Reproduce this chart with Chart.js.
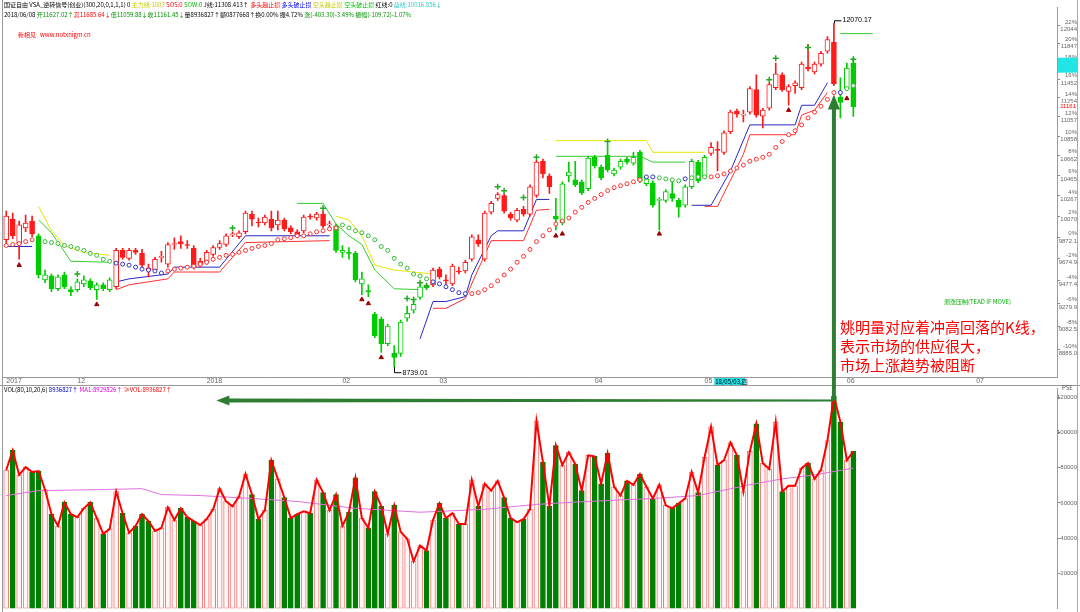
<!DOCTYPE html>
<html>
<head>
<meta charset="utf-8">
<script src="https://cdn.jsdelivr.net/npm/chart.js@4.4.0/dist/chart.umd.min.js"></script>
<style>
html, body { margin: 0; padding: 0; background: #fff; }
#wrap { position: relative; width: 1080px; height: 612px; overflow: hidden; }
#topBox { position: absolute; left: 0; top: 0; width: 1080px; height: 385px; }
#volBox { position: absolute; left: 0; top: 385px; width: 1080px; height: 227px; }
#leftLine { position: absolute; left: 2px; top: 0; width: 0; height: 612px; border-left: 1px solid #999; }
#rightLine { position: absolute; left: 1077px; top: 0; width: 0; height: 612px; border-left: 1px solid #aaa; }
</style>
</head>
<body>
<div id="wrap">
  <div id="topBox"><canvas id="priceChart"></canvas></div>
  <div id="volBox"><canvas id="volChart"></canvas></div>
  <div id="leftLine"></div>
  <div id="rightLine"></div>
</div>
<script>
// K线数据 (读自截图)
const opens = [9850,10043,9815,9960,10025,9887,9486,9521,9407,9530,9399,9399,9451,9477,9399,9442,9399,9425,9752,9680,
  9752,9725,9591,9574,9689,9627,9806,9833,9806,9770,9618,9644,9716,9779,9806,9896,9878,9924,10090,10016,
  10006,10043,9988,10034,9960,9924,9933,10071,10053,10090,9988,9979,9734,9734,9725,9451,9390,9185,9143,8935,
  8853,8853,9151,9219,9330,9434,9442,9582,9486,9451,9565,9565,9671,9850,9671,10108,10240,10268,10090,10034,
  10136,10090,10268,10604,10459,10071,10006,10459,10420,10401,10334,10643,10546,10663,10478,10546,10624,10585,10693,10382,
  10392,10221,10221,10287,10221,10174,10353,10595,10449,10683,10722,10693,10901,11114,11073,11104,11342,11063,11145,11363,
  11500,11321,11384,11363,11585,11532,11617,11757,11855,11259,11352,11627.02];
const highs = [10118,10099,10025,10080,10071,9905,9574,9538,9530,9556,9425,9495,9521,9495,9460,9460,9503,9770,9770,9770,
  9770,9761,9627,9689,9743,9824,9869,9887,9842,9797,9680,9752,9797,9842,9905,9924,9933,10118,10118,10053,
  10080,10118,10118,10053,9979,9942,10080,10090,10108,10118,10025,9997,9797,9779,9743,9556,9442,9202,9160,9101,
  8918,9134,9253,9313,9442,9451,9591,9600,9530,9627,9600,9662,9896,9896,10118,10211,10296,10287,10108,10146,
  10164,10372,10614,10624,10478,10240,10401,10595,10604,10420,10653,10663,10565,10772,10536,10624,10643,10693,10712,10449,
  10411,10249,10325,10430,10240,10372,10624,10614,10663,10792,10802,10912,11125,11135,11125,11373,11500,11145,11415,11628,
  11521,11394,11436,11638,11833,11638,11757,11920,12070.17,11468,11628,11685.64];
const lows = [9815,9859,9671,9924,9878,9503,9460,9381,9390,9407,9347,9381,9425,9399,9313,9390,9381,9407,9671,9662,
  9716,9600,9512,9556,9644,9600,9761,9770,9770,9582,9600,9627,9698,9761,9788,9878,9859,9905,9979,9970,
  9988,9933,9942,9933,9905,9869,9915,10043,10034,9960,9970,9734,9689,9671,9468,9356,9338,8984,8861,8918,
  8739.01,8828,9126,9193,9313,9399,9425,9495,9442,9434,9538,9547,9653,9788,9653,10090,10221,10099,10034,10016,
  10071,10071,10249,10440,10287,9942,9988,10401,10353,10277,10315,10536,10420,10497,10459,10526,10575,10565,10392,10363,
  10155,9942,10202,10211,10062,10155,10334,10392,10430,10663,10507,10673,10881,11053,11002,11084,11053,10942,11125,11342,
  11321,11176,11300,11342,11542,11511,11595,11735,11384,11043,11332,11059.88];
const closes = [10071,9887,9988,10006,9905,9530,9530,9407,9512,9425,9381,9468,9486,9416,9442,9407,9486,9752,9689,9752,
  9734,9618,9565,9671,9698,9806,9815,9815,9797,9600,9653,9734,9779,9815,9887,9905,9915,10099,10043,10006,
  10062,9960,10034,9951,9924,9887,10062,10062,10090,9979,9997,9752,9752,9725,9486,9495,9381,9001,8935,9084,
  8820,9117,9193,9270,9425,9416,9574,9512,9477,9609,9556,9644,9878,9815,10099,10192,10277,10118,10053,10127,
  10090,10353,10595,10478,10353,10043,10382,10497,10372,10296,10634,10556,10440,10517,10517,10604,10595,10643,10411,10430,
  10174,10230,10306,10240,10155,10353,10604,10411,10643,10742,10712,10891,11104,11084,11084,11352,11073,11125,11394,11510,
  11342,11373,11415,11617,11564,11617,11735,11888,11405,11207,11574,11161.45];
// 趋势颜色: R 红 / G 绿
const trend = 'RRRRR' + 'GGGGGGGGGGGG' + 'RRRRRRRRRRRRRRRRRRRRRRRRRRRRRRRRRR' + 'GGGGGGGGGGGGGGG' +
  'RRRRRRRRRRRRRRRRRRR' + 'GGGGGGGGGGGGGGGGGGGGGGGG' + 'RRRRRRRRRRRRRRRRRRRR' + 'GGG';

// 成交量
const vols = [78700,89860,75907,80372,77581,78140,67535,53581,46884,60279,53581,51907,56930,60279,51349,42419,45209,66419,54140,42977,
  46884,53581,49674,44093,45767,57488,50233,56930,51907,49674,47442,50791,56372,68093,60837,58047,63628,76465,64744,50791,
  55814,84279,73674,63070,51349,53581,55256,54140,73116,65860,55814,64744,46884,54698,74233,51349,45767,66419,58047,42419,
  58605,43535,39628,26791,35721,32930,50233,59721,51349,54140,48000,48000,73116,58047,70884,66977,72558,63070,51349,49116,
  50791,56372,106605,83163,58047,92651,81488,88744,82047,66977,87070,86512,70884,88186,69209,64186,72558,70326,76465,69209,
  62512,70326,58605,56930,59721,62512,77581,65860,85953,103256,81488,84279,94326,87070,66419,89302,104930,82605,79256,106047,
  66419,69767,69767,79814,82605,73674,78698,95442,120600,106047,84279,89302];
// 量均线 (稀疏读点)
const volMa = [[0,64186],[5,66977],[14,67535],[21,68093],[24,64744],[30,64186],[38,62512],[45,60837],[54,56930],[64,54698],
  [74,56372],[82,59163],[90,60837],[100,62512],[107,64186],[115,70326],[120,73674],[125,75907],[131,79814]];

// 指标线 (分段读点)
const yellowSegs = [
  [[5,10164],[7,9933],[9,9797],[12,9734],[16,9707]],
  [[51,10071],[53,10034],[55,9887],[57,9618],[60,9574],[66,9538]],
  [[85,10811],[99,10811],[100,10693],[108,10693]]
];
const greenSegs = [
  [[5,10034],[7,9915],[10,9653],[16,9644]],
  [[45,10192],[49,10192],[51,9997],[53,9887],[55,9806],[57,9574],[60,9407],[64,9399]],
  [[85,10653],[98,10653],[100,10595],[105,10595]],
  [[129,11954],[134,11954]]
];
const blueSegs = [
  [[0,9788],[4,9788]],
  [[17,9468],[19,9495],[25,9538],[26,9600],[33,9600],[37,9887],[50,9887]],
  [[64,8975],[66,9295],[68,9295],[71,9338],[72,9530],[75,9887],[76,9933],[80,9933],[82,10230],[84,10230]],
  [[106,10174],[109,10174],[112,10507],[115,10972],[122,10972],[123,11176],[125,11176],[127,11415]]
];
const redSegs = [
  [[17,9399],[19,9442],[25,9495],[26,9556],[33,9556],[37,9824],[50,9842]],
  [[66,9236],[68,9236],[71,9321],[73,9582],[75,9842],[80,9842],[82,10127],[84,10136]],
  [[108,10164],[110,10164],[114,10673],[115,10871],[122,10871],[123,11073],[125,11125],[127,11312]]
];
// SAR 圈
const sar = [9797,9806,9815,9833,9850,null,9833,9824,9815,9797,9788,9770,9752,9725,9707,9671,9653,9636,9627,9618,
  9600,9582,9574,9565,9547,9565,9582,9591,9600,9609,9627,9644,9671,9689,9707,9716,9734,9752,9770,9788,
  9797,9815,9850,9859,9869,9887,9887,9905,9924,9933,9951,9960,9988,9960,9933,9915,9887,9850,9788,9752,
  9680,9627,9591,9538,9521,9495,9468,9451,9425,9399,9373,9364,9364,9373,9399,9434,9477,9530,9582,9644,
  9698,9761,9833,9887,9942,9997,10025,10053,10108,10155,10202,10240,10277,10315,10344,10363,10382,10401,10420,10449,
  10449,10440,10430,10420,10411,10430,10440,10449,10449,10449,10459,10478,10507,10536,10565,10604,10624,10643,10673,10742,
  10802,10871,10912,10972,11044,11104,11166,11238,11310,11310,11352,11384];
const sarColor = 'RRRRR-GGGGGGGGGGGBBBBBBBBRRRRRRRRRRRRRRRRRRRRRRRRRRRGGGGGGGGGGGGGGBBBBBBRRRRRRRRRRRRRRRRRRRRRRRRRRRBBGGGGBGGGRRRRRRRRRRRRRRRRRRRRBGG';
// 信号标记
const buyMarks = [[11,9538],[35,9960],[49,10146],[62,9321],[63,9313],[64,9460],[65,9434],[76,10353],[77,10315],[80,10249],
  [82,10643],[93,10802],[118,11447],[119,11681],[124,11800],[131,11670]];
const sellMarks = [[2,9618],[14,9270],[55,9313],[56,9278],[58,8820],[85,9887],[86,9905],[101,9905],[121,11125],[130,11248]];

// 坐标轴
const slotCount = 163;
const monthNames = ['2017', '12', '2018', '02', '03', '04', '05', '06', '07'];
const monthIdx = [0, 11, 31, 52, 67, 91, 108, 130, 150];
const priceTicks = [12044, 11847, 11650, 11452, 11254, 11057, 10858, 10662, 10465, 10267, 10070, 9872.1, 9674.9, 9477.4, 9279.9, 9082.5, 8885.0];
const priceLabels = ['12044','11847','11650','11452','11254','11057','10858','10662','10465','10267','10070','9872.1','9674.9','9477.4','9279.9','9082.5','8885.0'];
const pctLabels = ['22%','20%','18%','16%','14%','12%','10%','8%','6%','4%','2%','0%','-2%','-4%','-6%','-8%','-10%'];
const volTicks = [20000, 40000, 60000, 80000, 100000, 120000];
const volLabels = ['20000', '40000', '60000', '80000', '100000', '120000'];

const notes = ['姚明量对应着冲高回落的K线，', '表示市场的供应很大，', '市场上涨趋势被阻断'];
const headLine1 = [['国证自由 VSA_逆转信号(创业)(300,20,0,1,1,1) 0 ', '#000'], ['主力线:1007 ', '#c8c800'], ['SOS:0 ', '#ff0000'],
  ['SOW:0 ', '#00b000'], ['J线:11308.413↑ ', '#000'], ['多头趋止损 ', '#ff0000'], ['多头破止损 ', '#0000ff'],
  ['空头趋止损 ', '#c8c800'], ['空头破止损 ', '#00c000'], ['红线:0 ', '#000'], ['蓝线:10016.856↓', '#30c8c8']];
const headLine2 = [['2018/06/08 ', '#000'], ['开11627.02↑', '#009000'], ['高11685.64↓', '#ff0000'], ['低11059.88↓', '#009000'],
  ['收11161.45↓', '#009000'], ['量8936827↑', '#000'], ['额0877668↑', '#000'], ['换0.00% ', '#000'], ['振4.72% ', '#000'],
  ['涨(-403.30)-3.49% ', '#009000'], ['振幅(-109.72)-1.07%', '#009000']];
const volHead = [['VOL(80,10,20,6) ', '#000'], ['8936827↑ ', '#0000c0'], ['MA1:8929826↑ ', '#e000e0'], ['≥VOL:8936827↑', '#ff0000']];

const hiIdx = 128, loIdx = 60;
const arrowTip = 11290;
const arrowVol = 118300;
const arrowLeft = 32.5;

const dayLabels = [];
for (let i = 0; i < slotCount; i++) {
  const k = monthIdx.indexOf(i);
  dayLabels.push(k >= 0 ? monthNames[k] : '');
}

const UP_RED = '#ff1a1a', UP_GRN = '#00cc00';
const candleColor = trend.split('').map(c => c === 'R' ? UP_RED : UP_GRN);
const isUp = closes.map((c, i) => c > opens[i]);

// 稀疏点 -> 按K线位置的数组
function sparse(points) {
  const arr = new Array(slotCount).fill(null);
  points.forEach(p => { arr[p[0]] = p[1]; });
  return arr;
}

function drawSegs(ctx, segs, x, y) {
  for (const [t, c] of segs) {
    ctx.fillStyle = c;
    ctx.fillText(t, x, y);
    x += ctx.measureText(t).width;
  }
}

const priceDecor = {
  id: 'priceDecor',
  afterDraw(chart) {
    const ctx = chart.ctx;
    const xs = chart.scales.x, ys = chart.scales.y;
    ctx.save();
    ctx.textBaseline = 'middle';
    ctx.font = '6px "Noto Sans CJK SC"';
    drawSegs(ctx, headLine1, 4, 4.5);
    drawSegs(ctx, headLine2, 4, 14.5);
    ctx.fillStyle = '#ff0000';
    ctx.fillText('新相见   www.notxnigm.cn', 18, 35);

    // 最高/最低标注
    ctx.strokeStyle = '#000'; ctx.lineWidth = 1;
    ctx.fillStyle = '#000';
    ctx.font = '7px "Liberation Sans"';
    const hx = Math.round(xs.getPixelForValue(hiIdx)) + 0.5, hy = ys.getPixelForValue(highs[hiIdx]);
    ctx.beginPath(); ctx.moveTo(hx, hy); ctx.lineTo(hx, hy - 2.5); ctx.lineTo(hx + 7, hy - 2.5); ctx.stroke();
    ctx.fillText(highs[hiIdx].toFixed(2), hx + 8, hy - 3);
    const lx = Math.round(xs.getPixelForValue(loIdx)) + 0.5, ly = ys.getPixelForValue(lows[loIdx]);
    ctx.beginPath(); ctx.moveTo(lx, ly); ctx.lineTo(lx, ly + 5.5); ctx.lineTo(lx + 7, ly + 5.5); ctx.stroke();
    ctx.fillText(lows[loIdx].toFixed(2), lx + 8, ly + 6);

    // 右侧坐标框
    const boxY = ys.getPixelForValue(11610);
    ctx.fillStyle = '#22e6e6';
    ctx.fillRect(1058, boxY - 7, 19, 15);
    const cy = ys.getPixelForValue(closes[closes.length - 1]);
    ctx.font = '6px "Liberation Sans"';
    ctx.fillStyle = '#fff';
    ctx.fillRect(1060, cy - 4, 17, 8);
    ctx.fillStyle = '#ff0000';
    ctx.textAlign = 'right';
    ctx.fillText('11161', 1076, cy);
    ctx.textAlign = 'left';

    // 光标日期
    const cx = xs.getPixelForValue(109.5);
    ctx.fillStyle = '#22e0e6';
    ctx.fillRect(cx, 378, 31, 7);
    ctx.fillStyle = '#000';
    ctx.font = '6px "Noto Sans CJK SC"';
    ctx.fillText('18/05/03,四', cx + 1, 381.5);

    // 绿色箭头 (竖)
    const ax = xs.getPixelForValue(hiIdx);
    const tipY = ys.getPixelForValue(arrowTip);
    ctx.fillStyle = '#2e7d32';
    ctx.fillRect(ax - 2, tipY + 13, 4, chart.height - tipY - 13);
    ctx.beginPath();
    ctx.moveTo(ax, tipY); ctx.lineTo(ax - 6, tipY + 15); ctx.lineTo(ax + 6, tipY + 15); ctx.closePath(); ctx.fill();

    // 说明文字
    ctx.font = '15px "Noto Sans CJK SC"';
    ctx.fillStyle = '#ff0000';
    notes.forEach((t, i) => ctx.fillText(t, 840, 327 + i * 19));
    ctx.font = '6px "Noto Sans CJK SC"';
    ctx.fillStyle = '#00b000';
    ctx.fillText('测涨压制(TEAD IF MOVE)', 944, 302);
    ctx.restore();
  }
};

const volDecor = {
  id: 'volDecor',
  afterDraw(chart) {
    const ctx = chart.ctx;
    const xs = chart.scales.x, ys = chart.scales.y;
    ctx.save();
    ctx.strokeStyle = '#999'; ctx.lineWidth = 1;
    ctx.beginPath(); ctx.moveTo(0, 0.5); ctx.lineTo(1080, 0.5); ctx.stroke();
    ctx.textBaseline = 'middle';
    ctx.font = '6px "Noto Sans CJK SC"';
    drawSegs(ctx, volHead, 4, 5);
    ctx.fillStyle = '#555';
    ctx.fillText('PSE', 1062, 3);

    const x0 = xs.getPixelForValue(hiIdx);
    const x1 = xs.getPixelForValue(arrowLeft);
    const ay = ys.getPixelForValue(arrowVol);
    ctx.fillStyle = '#2e7d32';
    ctx.fillRect(x0 - 2, 0, 4, ay);
    ctx.beginPath();
    ctx.moveTo(x1 + 12, ay - 2); ctx.lineTo(x0, ay - 1); ctx.lineTo(x0, ay + 1); ctx.lineTo(x1 + 12, ay + 2); ctx.closePath(); ctx.fill();
    ctx.beginPath();
    ctx.moveTo(x1, ay); ctx.lineTo(x1 + 13, ay - 5); ctx.lineTo(x1 + 13, ay + 5); ctx.closePath(); ctx.fill();
    ctx.restore();
  }
};

const lineSets = (segs, color) => segs.map(s => ({
  type: 'line', data: sparse(s), borderColor: color, borderWidth: 1, pointRadius: 0,
  spanGaps: true, order: 3
}));

new Chart(document.getElementById('priceChart'), {
  type: 'bar',
  data: {
    labels: dayLabels,
    datasets: [
      {
        data: opens.map((o, i) => [o, closes[i]]),
        backgroundColor: opens.map((o, i) => isUp[i] ? '#ffffff' : candleColor[i]),
        borderColor: candleColor, borderWidth: 1, borderSkipped: false,
        barThickness: 5, grouped: false, minBarLength: 1, order: 1
      },
      {
        data: lows.map((l, i) => [l, highs[i]]),
        backgroundColor: candleColor, barThickness: 1, grouped: false, order: 2
      },
      ...lineSets(yellowSegs, '#e6e600'),
      ...lineSets(greenSegs, '#33cc33'),
      ...lineSets(blueSegs, '#2828c8'),
      ...lineSets(redSegs, '#ff3030'),
      {
        type: 'line', data: sar, showLine: false, pointRadius: 2, pointBorderWidth: 1,
        pointBackgroundColor: '#ffffff',
        pointBorderColor: sarColor.split('').map(c => c === 'R' ? '#ff3030' : c === 'G' ? '#33bb33' : '#3030c0'),
        order: 0
      },
      {
        type: 'line', data: sparse(buyMarks), showLine: false,
        pointStyle: 'cross', pointRadius: 3, pointBorderWidth: 1.5, pointBorderColor: '#22aa22', order: 0
      },
      {
        type: 'line', data: sparse(sellMarks), showLine: false,
        pointStyle: 'triangle', pointRadius: 2.5, pointBorderWidth: 1,
        pointBorderColor: '#990000', pointBackgroundColor: '#990000', order: 0
      }
    ]
  },
  options: {
    responsive: true, maintainAspectRatio: false, animation: false, devicePixelRatio: 1,
    events: [],
    layout: { padding: { left: 3, right: 3, top: 0, bottom: 0 }, autoPadding: false },
    plugins: { legend: { display: false }, tooltip: { enabled: false } },
    scales: {
      x: {
        type: 'category', offset: true,
        grid: { display: false, drawTicks: false }, border: { color: '#999' },
        ticks: { autoSkip: false, maxRotation: 0, align: 'start', padding: 0, color: '#666',
          font: { size: 7, family: 'Liberation Sans' } },
        afterFit(s) { s.height = 8; }
      },
      y: {
        type: 'logarithmic', position: 'right', min: 8659, max: 12254, bounds: 'data',
        afterBuildTicks(s) { s.ticks = priceTicks.map(v => ({ value: v })); },
        afterFit(s) { s.width = 20; },
        grid: { drawOnChartArea: false, tickLength: 3, color: '#888' },
        border: { color: '#999' },
        ticks: { callback: (v, i) => [pctLabels[i], priceLabels[i]], color: '#666', padding: 0,
          crossAlign: 'far', font: { size: 6, family: 'Liberation Sans', lineHeight: 1.2 } }
      }
    }
  },
  plugins: [priceDecor]
});

new Chart(document.getElementById('volChart'), {
  type: 'bar',
  data: {
    labels: dayLabels,
    datasets: [
      {
        type: 'line', data: vols, borderColor: '#ff0000', borderWidth: 2, pointRadius: 0, order: 0
      },
      {
        type: 'line', data: sparse(volMa), spanGaps: true, borderColor: '#e070e0', borderWidth: 1,
        pointRadius: 0, order: 1
      },
      {
        data: vols,
        backgroundColor: isUp.map(u => u ? '#fff6f6' : '#008000'),
        borderColor: isUp.map(u => u ? '#f07878' : '#008000'),
        borderWidth: 1, borderSkipped: false, barThickness: 5, grouped: false, order: 2
      }
    ]
  },
  options: {
    responsive: true, maintainAspectRatio: false, animation: false, devicePixelRatio: 1,
    events: [],
    layout: { padding: { left: 3, right: 3, top: 0, bottom: 3 }, autoPadding: false },
    plugins: { legend: { display: false }, tooltip: { enabled: false } },
    scales: {
      x: { type: 'category', offset: true, display: false },
      y: {
        position: 'right', min: 0, max: 125023, bounds: 'data',
        afterBuildTicks(s) { s.ticks = volTicks.map(v => ({ value: v })); },
        afterFit(s) { s.width = 20; },
        grid: { drawOnChartArea: false, tickLength: 3, color: '#888' },
        border: { color: '#999' },
        ticks: { callback: (v, i) => volLabels[i], color: '#666', padding: 0, crossAlign: 'far',
          font: { size: 6, family: 'Liberation Sans' } }
      }
    }
  },
  plugins: [volDecor]
});
</script>
</body>
</html>
